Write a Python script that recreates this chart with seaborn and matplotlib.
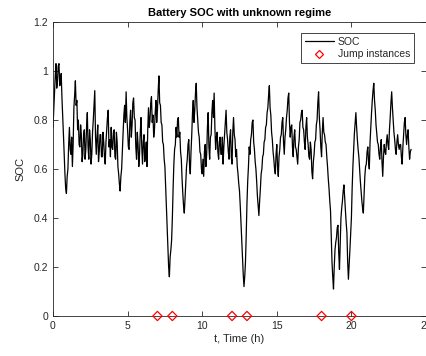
import numpy as np
import pandas as pd
import matplotlib
matplotlib.use("Agg")
import matplotlib.pyplot as plt
from matplotlib.lines import Line2D
from matplotlib.ticker import FuncFormatter
import seaborn as sns

# ---------------- data (0.05 h steps) ----------------
time_h = [round(0.05 * i, 2) for i in range(481)]
soc = [
    # hour 0
    0.77, 0.84, 0.90, 0.98, 1.03, 0.93, 0.96, 1.02, 1.03, 0.94,
    0.95, 0.99, 0.89, 0.82, 0.74, 0.66, 0.58, 0.52, 0.50, 0.57,
    # hour 1
    0.60, 0.70, 0.77, 0.68, 0.66, 0.73, 0.61, 0.70, 0.85, 0.90,
    0.96, 0.86, 0.88, 0.76, 0.80, 0.70, 0.69, 0.78, 0.74, 0.63,
    # hour 2
    0.66, 0.74, 0.76, 0.64, 0.68, 0.77, 0.83, 0.69, 0.64, 0.76,
    0.72, 0.62, 0.66, 0.75, 0.80, 0.86, 0.92, 0.73, 0.66, 0.73,
    # hour 3
    0.78, 0.63, 0.67, 0.74, 0.74, 0.65, 0.65, 0.75, 0.71, 0.65,
    0.62, 0.71, 0.76, 0.81, 0.84, 0.69, 0.72, 0.65, 0.77, 0.69,
    # hour 4
    0.68, 0.75, 0.76, 0.65, 0.64, 0.75, 0.71, 0.61, 0.58, 0.54,
    0.51, 0.57, 0.60, 0.68, 0.75, 0.82, 0.86, 0.79, 0.915, 0.81,
    # hour 5
    0.76, 0.69, 0.68, 0.79, 0.84, 0.73, 0.78, 0.87, 0.89, 0.81,
    0.80, 0.69, 0.64, 0.75, 0.70, 0.61, 0.66, 0.75, 0.81, 0.69,
    # hour 6
    0.62, 0.71, 0.74, 0.63, 0.66, 0.71, 0.61, 0.76, 0.85, 0.77,
    0.80, 0.87, 0.895, 0.79, 0.82, 0.73, 0.76, 0.83, 0.88, 0.79,
    # hour 7
    0.84, 0.92, 0.98, 0.87, 0.86, 0.79, 0.78, 0.71, 0.70, 0.64,
    0.61, 0.53, 0.45, 0.38, 0.30, 0.20, 0.16, 0.24, 0.27, 0.31,
    # hour 8
    0.40, 0.52, 0.62, 0.68, 0.70, 0.77, 0.73, 0.80, 0.81, 0.73,
    0.75, 0.67, 0.64, 0.56, 0.50, 0.45, 0.42, 0.48, 0.55, 0.61,
    # hour 9
    0.64, 0.70, 0.72, 0.62, 0.58, 0.67, 0.74, 0.83, 0.88, 0.79,
    0.84, 0.91, 0.95, 0.85, 0.80, 0.75, 0.73, 0.67, 0.66, 0.60,
    # hour 10
    0.58, 0.64, 0.57, 0.67, 0.70, 0.61, 0.66, 0.77, 0.83, 0.69,
    0.64, 0.73, 0.74, 0.83, 0.88, 0.81, 0.91, 0.77, 0.68, 0.73,
    # hour 11
    0.75, 0.67, 0.64, 0.71, 0.73, 0.66, 0.66, 0.73, 0.62, 0.69,
    0.74, 0.79, 0.84, 0.75, 0.72, 0.67, 0.64, 0.73, 0.76, 0.65,
    # hour 12
    0.62, 0.75, 0.81, 0.74, 0.72, 0.65, 0.68, 0.61, 0.58, 0.54,
    0.51, 0.45, 0.38, 0.30, 0.24, 0.17, 0.12, 0.16, 0.22, 0.33,
    # hour 13
    0.46, 0.55, 0.61, 0.69, 0.66, 0.72, 0.74, 0.79, 0.80, 0.71,
    0.68, 0.63, 0.60, 0.55, 0.49, 0.45, 0.41, 0.47, 0.52, 0.58,
    # hour 14
    0.60, 0.65, 0.66, 0.71, 0.72, 0.77, 0.78, 0.83, 0.85, 0.90,
    0.94, 0.85, 0.82, 0.75, 0.72, 0.67, 0.64, 0.60, 0.58, 0.66,
    # hour 15
    0.70, 0.61, 0.57, 0.65, 0.68, 0.73, 0.74, 0.79, 0.81, 0.71,
    0.66, 0.73, 0.76, 0.81, 0.84, 0.89, 0.91, 0.79, 0.73, 0.77,
    # hour 16
    0.78, 0.69, 0.65, 0.73, 0.76, 0.69, 0.68, 0.65, 0.62, 0.69,
    0.72, 0.79, 0.80, 0.83, 0.84, 0.77, 0.76, 0.71, 0.68, 0.77,
    # hour 17
    0.81, 0.73, 0.70, 0.65, 0.64, 0.71, 0.68, 0.59, 0.56, 0.63,
    0.66, 0.71, 0.72, 0.78, 0.80, 0.87, 0.915, 0.81, 0.76, 0.69,
    # hour 18
    0.65, 0.75, 0.81, 0.75, 0.74, 0.71, 0.70, 0.65, 0.61, 0.56,
    0.52, 0.47, 0.43, 0.33, 0.22, 0.16, 0.11, 0.20, 0.27, 0.30,
    # hour 19
    0.32, 0.36, 0.37, 0.26, 0.19, 0.30, 0.40, 0.44, 0.47, 0.51,
    0.535, 0.48, 0.43, 0.38, 0.34, 0.22, 0.15, 0.21, 0.27, 0.34,
    # hour 20
    0.40, 0.52, 0.61, 0.68, 0.745, 0.79, 0.83, 0.77, 0.72, 0.68,
    0.65, 0.60, 0.55, 0.51, 0.47, 0.44, 0.42, 0.50, 0.57, 0.61,
    # hour 21
    0.62, 0.67, 0.69, 0.63, 0.60, 0.71, 0.77, 0.83, 0.88, 0.92,
    0.95, 0.88, 0.84, 0.78, 0.745, 0.71, 0.70, 0.66, 0.64, 0.69,
    # hour 22
    0.72, 0.63, 0.57, 0.65, 0.70, 0.67, 0.66, 0.71, 0.74, 0.70,
    0.68, 0.76, 0.81, 0.87, 0.915, 0.85, 0.80, 0.75, 0.72, 0.68,
    # hour 23
    0.66, 0.71, 0.74, 0.70, 0.68, 0.70, 0.70, 0.65, 0.62, 0.69,
    0.74, 0.79, 0.81, 0.74, 0.70, 0.74, 0.76, 0.69, 0.64, 0.67,
    # 24.0
    0.68,
]
jump_times = [7, 8, 12, 13, 18, 20]
jump_values = [0, 0, 0, 0, 0, 0]

x_ticks = [0, 5, 10, 15, 20, 25]
y_ticks = [0, 0.2, 0.4, 0.6, 0.8, 1.0, 1.2]

title_text = "Battery SOC with unknown regime"
x_label = "t, Time (h)"
y_label = "SOC"
legend_labels = ["SOC", "Jump instances"]

# ---------------- plotting ----------------
sns.set_style("ticks")
plt.rcParams["font.family"] = ["Liberation Sans", "DejaVu Sans"]

axis_col = "#262626"

fig = plt.figure(figsize=(4.27, 3.56), dpi=100)
ax = fig.add_axes([53 / 427, 1 - 316 / 356, (426 - 53) / 427, (316 - 22) / 356])

df = pd.DataFrame({"t": time_h, "soc": soc})
sns.lineplot(data=df, x="t", y="soc", ax=ax, color="black", linewidth=0.9,
             estimator=None, legend=False)

jdf = pd.DataFrame({"t": jump_times, "v": jump_values})
sns.scatterplot(data=jdf, x="t", y="v", ax=ax, marker="D", s=22,
                facecolor="none", edgecolor="red", linewidth=0.9,
                clip_on=False, zorder=5, legend=False)

ax.set_xlim(0, 25)
ax.set_ylim(0, 1.2)
ax.set_xticks(x_ticks)
ax.set_yticks(y_ticks)
ax.yaxis.set_major_formatter(FuncFormatter(lambda v, p: f"{v:g}"))
ax.xaxis.set_major_formatter(FuncFormatter(lambda v, p: f"{v:g}"))

ax.tick_params(direction="in", top=True, right=True, length=3.5, width=0.6,
               labelsize=7.5, colors=axis_col, pad=3.5)
for sp in ax.spines.values():
    sp.set_color(axis_col)
    sp.set_linewidth(0.6)

ax.set_title(title_text, fontsize=8, fontweight="bold", pad=4, color="black")
ax.set_xlabel(x_label, fontsize=8, color=axis_col, labelpad=2)
ax.set_ylabel(y_label, fontsize=8, color=axis_col, labelpad=6)

handles = [
    Line2D([0], [0], color="black", lw=0.9),
    Line2D([0], [0], color="red", marker="D", markersize=4.2, lw=0,
           markerfacecolor="none", markeredgewidth=0.9),
]
leg = ax.legend(handles, legend_labels, loc="upper right",
                bbox_to_anchor=(414 / 427, 1 - 33 / 356),
                bbox_transform=fig.transFigure, fontsize=7.5,
                frameon=True, fancybox=False, framealpha=1,
                edgecolor=axis_col, borderpad=0.35, handlelength=2.8,
                handletextpad=0.4, labelspacing=0.25, borderaxespad=0)
leg.get_frame().set_linewidth(0.6)

fig.savefig("out.png", dpi=100)
